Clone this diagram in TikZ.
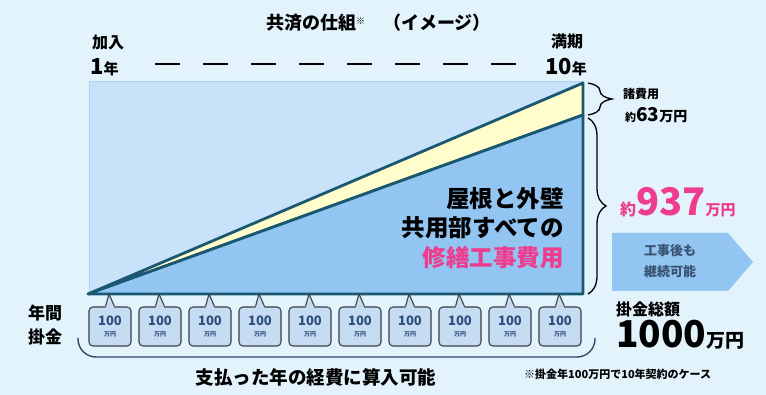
\documentclass[tikz,border=0pt]{standalone}
\usepackage{fontspec}
\setmainfont{Noto Sans CJK JP}
\usetikzlibrary{decorations.pathreplacing}

\definecolor{bgblue}{HTML}{E2F3FC}
\definecolor{paleblue}{HTML}{C8E2F9}
\definecolor{paleedge}{HTML}{A9D2F5}
\definecolor{midblue}{HTML}{92C5F2}
\definecolor{cream}{HTML}{FFFDCB}
\definecolor{edgeteal}{HTML}{1A5872}
\definecolor{costpink}{HTML}{EE3D8E}
\definecolor{boxfill}{HTML}{C6DCF3}
\definecolor{boxline}{HTML}{3A3F48}
\definecolor{boxtext}{HTML}{2F4E7C}
\definecolor{notetext}{HTML}{3B5273}
\definecolor{bracketblue}{HTML}{2C4A6C}

\newcommand{\sz}[2]{\fontsize{#1}{#2}\selectfont}

\begin{document}
\begin{tikzpicture}[x=1pt, y=-1pt,
  lbl/.style={font=\bfseries, inner sep=0pt},
  payment/.style={draw=boxline, fill=boxfill, rounded corners=4pt, line width=1.1pt,
    minimum width=42pt, minimum height=39pt, inner sep=0pt, align=center,
    text=boxtext},
  bracecurl/.style={decorate, decoration={brace, amplitude=#1}, line width=1.3pt},
  bracecurl/.default=10pt]

  % background and frame
  \fill[bgblue] (0,0) rectangle (766,395);
  \useasboundingbox (0,0) rectangle (766,395);

  % title and years
  \node[lbl, anchor=west] (title) at (266,23) {\sz{18}{18}共済の仕組\raisebox{5pt}{\sz{9}{9}※}\quad（イメージ）};
  \node[lbl] (join) at (108,43) {\sz{16}{16}加入};
  \node[lbl, anchor=base west] (first) at (90,75) {\sz{22}{22}1\sz{15}{15}年};
  \node[lbl] (maturity) at (567,41) {\sz{16}{16}満期};
  \node[lbl, anchor=base east] (last) at (587,75) {\sz{22}{22}10\sz{15}{15}年};
  \draw[line width=1.2pt, dash pattern=on 25pt off 23pt] (155,64) -- (516,64);

  % Draw the chart
  \filldraw[fill=paleblue, draw=paleedge, line width=1pt] (89,82) rectangle (583,294);
  \coordinate (origin) at (88,294);
  \coordinate (top) at (583,83);
  \coordinate (split) at (583,115);
  \coordinate (corner) at (583,294);
  \filldraw[fill=cream, draw=edgeteal, line width=2.8pt, line join=round] (origin) -- (top) -- (split) -- cycle;
  \filldraw[fill=midblue, draw=edgeteal, line width=2.8pt, line join=round] (origin) -- (split) -- (corner) -- cycle;

  \node[lbl, anchor=east, align=right, font=\bfseries\sz{23.5}{29.5}] (repair) at (564,228)
    {屋根と外壁\\共用部すべての\\\textcolor{costpink}{修繕工事費用}};

  % braces on the right
  \draw[bracecurl=24pt] (588,83) -- (588,115);
  \draw[bracecurl=18pt] (588,118) -- (588,294);
  \node[lbl, anchor=west] (fees) at (623,94) {\sz{12}{12}諸費用};
  \node[lbl, anchor=base west] (feesum) at (625,122) {\sz{11}{11}約\sz{19}{19}63\sz{14}{14}万円};
  \node[lbl, anchor=base west, text=costpink] (repairsum) at (620,216) {\sz{16}{16}約\sz{38}{38}937\sz{15}{15}万円};

  % continue arrow
  \filldraw[fill=midblue, draw=none] (612,233) -- (728,233) -- (753,262) -- (728,291) -- (612,291) -- cycle;
  \node[lbl, text=notetext, align=center, font=\bfseries\sz{13}{21}] (continue) at (670,261) {工事後も\\継続可能};

  % yearly payments
  \node[lbl, align=center, font=\bfseries\sz{17}{24}] (yearly) at (45,325) {年間\\掛金};
  \foreach \i in {1,...,10} {
    \pgfmathsetmacro{\px}{110+50*(\i-1)}
    \node[payment] (p\i) at (\px,326.5) {\bfseries\sz{13}{13}100\\[-1pt]\bfseries\sz{6}{6}万円};
    \coordinate (t\i) at (\px-1,294);
    \fill[boxfill] ([xshift=-4.5pt,yshift=-1.5pt]p\i.north) -- (t\i) -- ([xshift=4.5pt,yshift=-1.5pt]p\i.north) -- cycle;
    \draw[boxline, line width=1.1pt, line join=round] ([xshift=-4.5pt]p\i.north) -- (t\i) -- ([xshift=4.5pt]p\i.north);
  }

  % bottom bracket
  \draw[bracketblue, line width=1.4pt, rounded corners=18pt] (78,338) -- (78,357) -- (595,357) -- (595,338);
  \node[lbl] (expense) at (316,377) {\sz{18.5}{18.5}支払った年の経費に算入可能};
  \node[lbl, anchor=west] (note) at (524,374) {\sz{11}{11}※掛金年100万円で10年契約のケース};

  % total
  \node[lbl, anchor=west] (total) at (616,309) {\sz{16}{16}掛金総額};
  \node[lbl, anchor=base west] (totalsum) at (616,348) {\sz{37}{37}1000\sz{19}{19}万円};

\end{tikzpicture}
\end{document}
